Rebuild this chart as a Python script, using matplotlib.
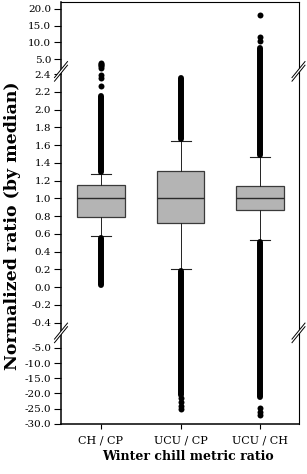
import numpy as np
import matplotlib
matplotlib.use("Agg")
import matplotlib.pyplot as plt
from matplotlib.lines import Line2D
from matplotlib.patches import Polygon
import matplotlib.transforms as mtransforms

# ---------------- data ----------------
categories = ["CH / CP", "UCU / CP", "UCU / CH"]
medians = [1.0, 1.0, 1.0]
q1 = [0.794, 0.718, 0.873]
q3 = [1.146, 1.304, 1.135]
whisker_low = [0.572, 0.205, 0.535]
whisker_high = [1.275, 1.646, 1.470]
# dense runs of outliers (low, high) for each category
outlier_runs = [
    [(0.025, 0.55), (1.30, 2.15)],
    [(-20.5, 0.18), (1.67, 2.35)],
    [(-21.2, 0.51), (1.49, 8.3)],
]
# separate outliers
outlier_points = [
    [2.26, 2.35, 2.39, 2.7, 2.9, 3.2, 3.5, 3.7],
    [-21.5, -22.8, -24.0, -25.0],
    [-24.8, -26.1, -27.2, 10.4, 11.6, 18.3],
]
ytick_values = [-30.0, -25.0, -20.0, -15.0, -10.0, -5.0,
                -0.4, -0.2, 0.0, 0.2, 0.4, 0.6, 0.8, 1.0, 1.2, 1.4,
                1.6, 1.8, 2.0, 2.2, 2.4, 5.0, 10.0, 15.0, 20.0]
xlabel = "Winter chill metric ratio"
ylabel = "Normalized ratio (by median)"

# ---------------- broken-axis scale (piecewise linear) ----------------
anc_v = np.array([-1000.0, -30.0, -5.0, -1.0, -0.5, 2.45, 3.0, 20.0, 1000.0])
anc_p = np.array([423.7 + 970 * 3.03, 423.7, 348.0, 335.9, 331.6,
                  69.6, 65.7, 9.0, 9.0 - 980 * 3.333])


def fwd(v):
    return np.interp(np.asarray(v, dtype=float), anc_v, -anc_p)


def inv(t):
    return np.interp(np.asarray(t, dtype=float), -anc_p, anc_v)


plt.rcParams['font.family'] = ['DejaVu Serif']
plt.rcParams['axes.unicode_minus'] = False

W, H = 307, 474
fig = plt.figure(figsize=(W / 100, H / 100), dpi=100)
ax = fig.add_axes([61 / W, (H - 423.7) / H, 237.5 / W, 421.7 / H])
ax.set_yscale('function', functions=(fwd, inv))
ax.set_ylim(-30, 22.1)
ax.set_xlim(0.5, 3.48)

x = np.arange(1, len(categories) + 1)
stats = []
for i in range(len(categories)):
    stats.append(dict(med=medians[i], q1=q1[i], q3=q3[i],
                      whislo=whisker_low[i], whishi=whisker_high[i],
                      fliers=[]))
ax.bxp(stats, positions=x, widths=0.6, capwidths=0.25, patch_artist=True,
       showfliers=False,
       boxprops=dict(facecolor='#b4b4b4', edgecolor='#3a3a3a', linewidth=0.9),
       medianprops=dict(color='#2a2a2a', linewidth=1.0),
       whiskerprops=dict(color='#222222', linewidth=0.7),
       capprops=dict(color='#222222', linewidth=0.8))

for i, xi in enumerate(x):
    for lo, hi in outlier_runs[i]:
        ax.vlines(xi, lo, hi, colors='black', linewidth=4.3, capstyle='round',
                  zorder=3)
    pts = outlier_points[i]
    ax.plot([xi] * len(pts), pts, 'o', color='black', markersize=4.3,
            markeredgewidth=0, zorder=3)

ax.yaxis.set_major_locator(matplotlib.ticker.FixedLocator(ytick_values))
ax.yaxis.set_minor_locator(matplotlib.ticker.NullLocator())
ax.set_yticklabels([f"{v:.1f}" for v in ytick_values])
ax.set_xticks(x)
ax.set_xticklabels(categories)
ax.tick_params(axis='y', direction='out', length=5.0, width=0.8, pad=2.0,
               labelsize=7.5)
ax.tick_params(axis='x', direction='out', length=3.6, width=0.8, pad=5,
               labelsize=8)

for s in ['left', 'bottom']:
    ax.spines[s].set_linewidth(1.1)
for s in ['top', 'right']:
    ax.spines[s].set_linewidth(0.8)

ax.set_xlabel(xlabel, fontsize=9, fontweight='bold')
ax.set_ylabel(ylabel, fontsize=12.5, fontweight='bold')
ax.xaxis.set_label_coords(0.535, -0.063)
ax.yaxis.set_label_coords(-(61 - 21.5) / 237.5, 0.469)

# ---------------- axis break marks ----------------
blend = mtransforms.blended_transform_factory(ax.transAxes, ax.transData)
ident = mtransforms.IdentityTransform()
for yb in [2.43, -0.65]:
    for xa in [0.0, 1.0]:
        cx, cy = blend.transform((xa, yb))
        dx, dy, gap = 6.5, 8.0, 1.8
        poly = Polygon([(cx - dx, cy - dy - gap), (cx + dx, cy + dy - gap),
                        (cx + dx, cy + dy + gap), (cx - dx, cy - dy + gap)],
                       closed=True, facecolor='white', edgecolor='none',
                       transform=ident, zorder=10)
        fig.add_artist(poly)
        for o in [-gap, gap]:
            fig.add_artist(Line2D([cx - dx, cx + dx], [cy - dy + o, cy + dy + o],
                                  color='black', linewidth=0.7,
                                  transform=ident, zorder=11))

fig.savefig('out.png', dpi=100)
